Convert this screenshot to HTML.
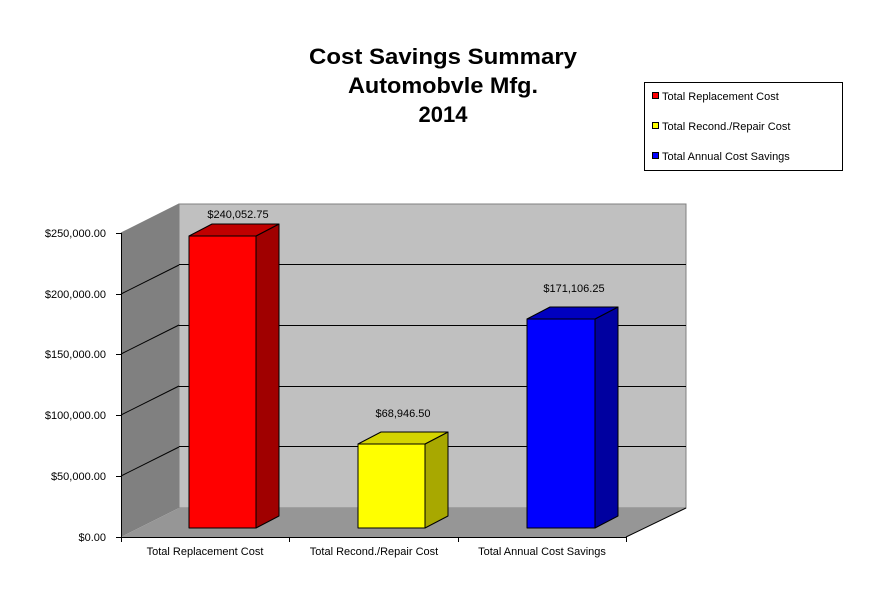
<!DOCTYPE html>
<html><head><style>body{margin:0;background:#fff}</style></head><body>
<svg width="883" height="609" xmlns="http://www.w3.org/2000/svg" font-family="Liberation Sans, Arial, sans-serif">
<rect width="883" height="609" fill="#fff"/>
<g font-weight="bold" font-size="22" text-anchor="middle" fill="#000">
<text x="443" y="64" textLength="268" lengthAdjust="spacingAndGlyphs">Cost Savings Summary</text>
<text x="443" y="93" textLength="190" lengthAdjust="spacingAndGlyphs">Automobvle Mfg.</text>
<text x="443" y="122">2014</text>
</g>
<rect x="644.5" y="82.5" width="198" height="88" fill="#fff" stroke="#000"/>
<g font-size="11">
<rect x="652.5" y="92.5" width="6" height="6" fill="#f00" stroke="#000"/><text x="662" y="100">Total Replacement Cost</text>
<rect x="652.5" y="122.5" width="6" height="6" fill="#ff0" stroke="#000"/><text x="662" y="130">Total Recond./Repair Cost</text>
<rect x="652.5" y="152.5" width="6" height="6" fill="#00f" stroke="#000"/><text x="662" y="160">Total Annual Cost Savings</text>
</g>
<polygon points="179,204 686,204 686,508 179,508" fill="#c0c0c0" stroke="#808080"/>
<polygon points="121,233 179,204 179,508 121,537" fill="#808080"/>
<polygon points="121,537 179,508 686,508 626,537" fill="#969696"/>
<g stroke="#000" stroke-width="1">
<line x1="179" y1="264.5" x2="686" y2="264.5"/><line x1="179" y1="325.5" x2="686" y2="325.5"/>
<line x1="179" y1="386.5" x2="686" y2="386.5"/><line x1="179" y1="446.5" x2="686" y2="446.5"/>
<line x1="121" y1="294" x2="179" y2="265"/><line x1="121" y1="354" x2="179" y2="325"/>
<line x1="121" y1="415" x2="179" y2="386"/><line x1="121" y1="476" x2="179" y2="447"/>
<line x1="121" y1="233" x2="179" y2="204" stroke="#808080"/>
<line x1="121.5" y1="233" x2="121.5" y2="537"/>
<line x1="121" y1="537.5" x2="626" y2="537.5"/>
<line x1="626" y1="537" x2="686" y2="508"/>
<line x1="116" y1="233.5" x2="121" y2="233.5"/><line x1="116" y1="294.5" x2="121" y2="294.5"/>
<line x1="116" y1="354.5" x2="121" y2="354.5"/><line x1="116" y1="415.5" x2="121" y2="415.5"/>
<line x1="116" y1="476.5" x2="121" y2="476.5"/><line x1="116" y1="537.5" x2="121" y2="537.5"/>
<line x1="121.5" y1="537" x2="121.5" y2="542"/><line x1="289.5" y1="537" x2="289.5" y2="542"/>
<line x1="458.5" y1="537" x2="458.5" y2="542"/><line x1="626.5" y1="537" x2="626.5" y2="542"/>
</g>
<g font-size="11" text-anchor="end">
<text x="106" y="237">$250,000.00</text><text x="106" y="298">$200,000.00</text>
<text x="106" y="358">$150,000.00</text><text x="106" y="419">$100,000.00</text>
<text x="106" y="480">$50,000.00</text><text x="106" y="541">$0.00</text>
</g>
<g font-size="11" text-anchor="middle">
<text x="205" y="555">Total Replacement Cost</text>
<text x="374" y="555">Total Recond./Repair Cost</text>
<text x="542" y="555">Total Annual Cost Savings</text>
<text x="238" y="218">$240,052.75</text>
<text x="403" y="417">$68,946.50</text>
<text x="574" y="292">$171,106.25</text>
</g>
<g stroke="#000" stroke-width="1" stroke-linejoin="round">
<polygon points="256,236 279,224 279,516 256,528" fill="#a00000"/>
<polygon points="189,236 212,224 279,224 256,236" fill="#c00000"/>
<rect x="189" y="236" width="67" height="292" fill="#f00"/>
<polygon points="425,444 448,432 448,516 425,528" fill="#a8a800"/>
<polygon points="358,444 381,432 448,432 425,444" fill="#d4d400"/>
<rect x="358" y="444" width="67" height="84" fill="#ff0"/>
<polygon points="595,319 618,307 618,516 595,528" fill="#0000a0"/>
<polygon points="527,319 550,307 618,307 595,319" fill="#0000c0"/>
<rect x="527" y="319" width="68" height="209" fill="#00f"/>
</g>
</svg>
</body></html>
